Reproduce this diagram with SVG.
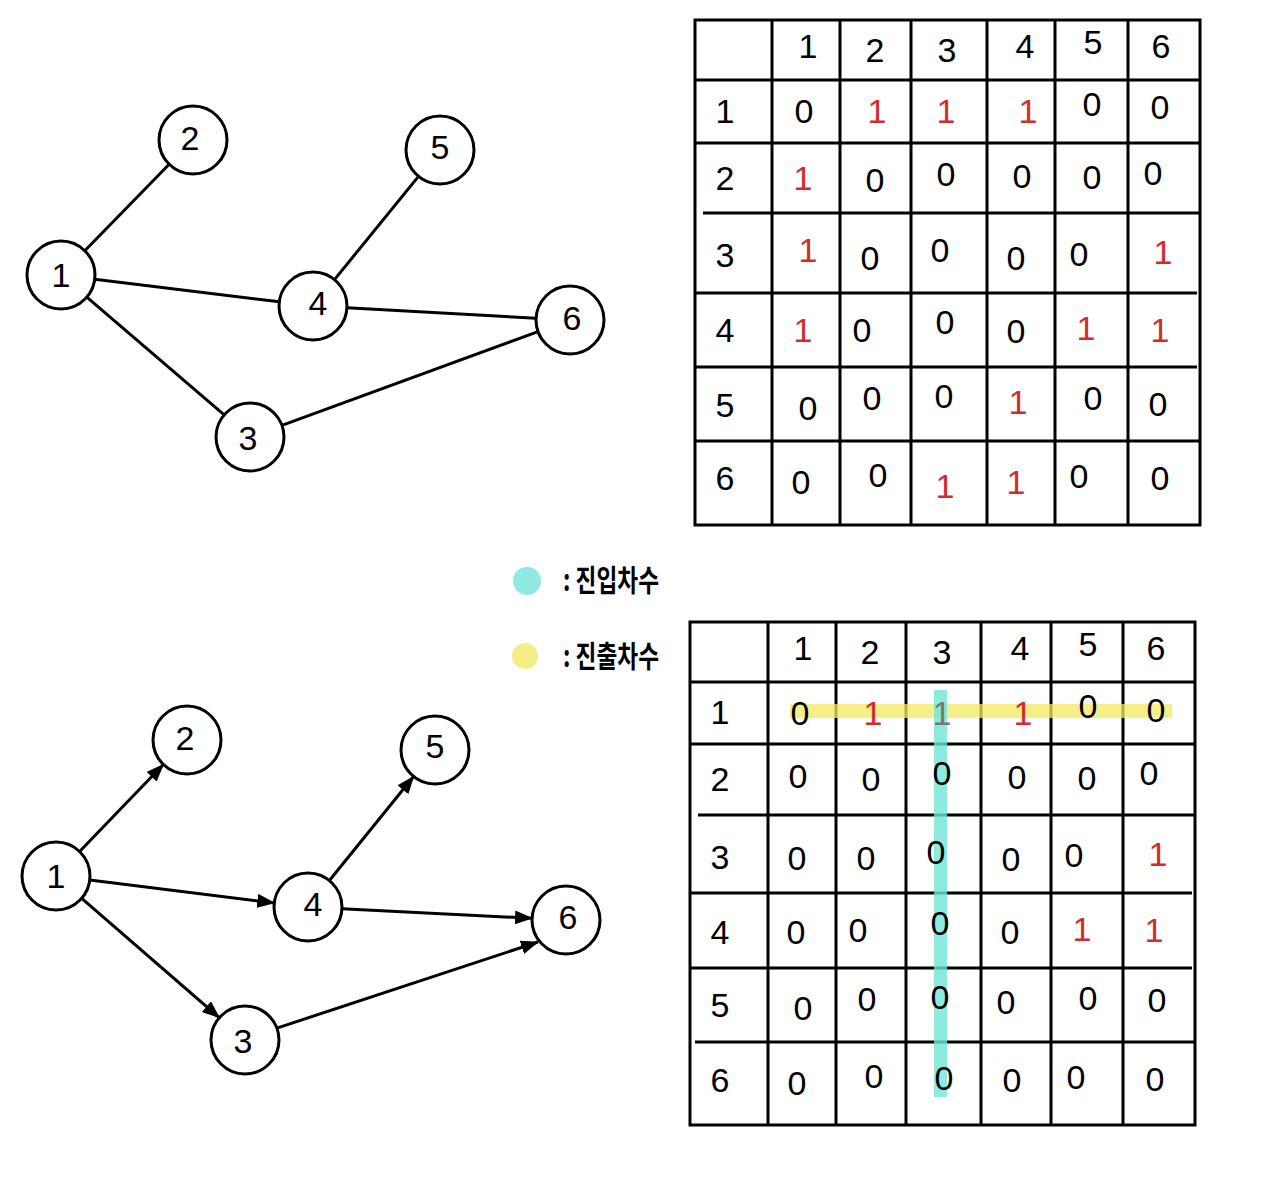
<svg xmlns="http://www.w3.org/2000/svg" width="1263" height="1194" viewBox="0 0 1263 1194">
<defs>
<style>
.node{fill:#fff;stroke:#000;stroke-width:3}
.lbl{font-family:"Liberation Sans","Noto Sans",sans-serif;font-size:34px;fill:#000;text-anchor:middle;dominant-baseline:central}
.edge{stroke:#000;stroke-width:3;fill:none}
.grid{stroke:#000;stroke-width:3;fill:none}
.c{font-family:"Liberation Sans","Noto Sans",sans-serif;font-size:34px;text-anchor:middle;dominant-baseline:central;fill:#000}
.one{fill:#d42a2a}
.leg{font-family:"Noto Sans CJK KR","Noto Sans",sans-serif;font-size:30px;font-weight:bold;fill:#000}
</style>
<marker id="arr" markerUnits="userSpaceOnUse" markerWidth="18" markerHeight="14" viewBox="0 0 18 14" refX="17" refY="7" orient="auto">
<path d="M0,0 L18,7 L0,14 z" fill="#000"/>
</marker>
</defs>
<rect width="1263" height="1194" fill="#fff"/>

<!-- top undirected graph edges -->
<g id="edges-top">
<line class="edge" x1="84.8" y1="250.7" x2="169.2" y2="164.3"/>
<line class="edge" x1="94.7" y1="279.2" x2="279.3" y2="301.8"/>
<line class="edge" x1="86.8" y1="297.1" x2="224.2" y2="414.9"/>
<line class="edge" x1="334.5" y1="279.6" x2="418.5" y2="176.4"/>
<line class="edge" x1="347" y1="307.8" x2="536" y2="318.2"/>
<line class="edge" x1="281.9" y1="425.3" x2="538.1" y2="331.7"/>
</g>
<g id="t-n1"><circle class="node" cx="61" cy="275" r="34"/><text class="lbl" x="61" y="275">1</text></g>
<g id="t-n2"><circle class="node" cx="193" cy="140" r="34"/><text class="lbl" x="190" y="138">2</text></g>
<g id="t-n5"><circle class="node" cx="440" cy="150" r="34"/><text class="lbl" x="440" y="147">5</text></g>
<g id="t-n4"><circle class="node" cx="313" cy="306" r="34"/><text class="lbl" x="318" y="303">4</text></g>
<g id="t-n6"><circle class="node" cx="570" cy="320" r="34"/><text class="lbl" x="572" y="318">6</text></g>
<g id="t-n3"><circle class="node" cx="250" cy="437" r="34"/><text class="lbl" x="248" y="438">3</text></g>

<!-- bottom directed graph edges -->
<g id="edges-bottom">
<line class="edge" x1="79.6" y1="851.5" x2="163.4" y2="764.5" marker-end="url(#arr)"/>
<line class="edge" x1="89.7" y1="880.1" x2="274.3" y2="902.9" marker-end="url(#arr)"/>
<line class="edge" x1="81.7" y1="898.3" x2="219.3" y2="1017.7" marker-end="url(#arr)"/>
<line class="edge" x1="329.4" y1="880.5" x2="413.6" y2="776.5" marker-end="url(#arr)"/>
<line class="edge" x1="342" y1="908.7" x2="532" y2="918.3" marker-end="url(#arr)"/>
<line class="edge" x1="276.9" y1="1028.1" x2="538" y2="942" marker-end="url(#arr)"/>
</g>
<g id="b-n1"><circle class="node" cx="56" cy="876" r="34"/><text class="lbl" x="56" y="876">1</text></g>
<g id="b-n2"><circle class="node" cx="187" cy="740" r="34"/><text class="lbl" x="185" y="738">2</text></g>
<g id="b-n5"><circle class="node" cx="435" cy="750" r="34"/><text class="lbl" x="435" y="746">5</text></g>
<g id="b-n4"><circle class="node" cx="308" cy="907" r="34"/><text class="lbl" x="313" y="904">4</text></g>
<g id="b-n6"><circle class="node" cx="566" cy="920" r="34"/><text class="lbl" x="568" y="917">6</text></g>
<g id="b-n3"><circle class="node" cx="245" cy="1040" r="34"/><text class="lbl" x="243" y="1041">3</text></g>

<!-- top matrix -->
<g id="matrix-top">
<rect class="grid" x="695" y="20" width="505" height="505"/>
<path class="grid" d="M772,20V525 M840,20V525 M911,20V525 M987,20V525 M1055,20V525 M1128,20V525 M695,80H1200 M695,143H1200 M703,213H1200 M695,293H1197 M695,367H1197 M695,441H1200"/>
<g class="c">
<text x="808" y="46">1</text><text x="875" y="50">2</text><text x="947" y="50">3</text><text x="1025" y="46">4</text><text x="1093" y="42">5</text><text x="1161" y="46">6</text>
<text x="725" y="111">1</text><text x="725" y="178">2</text><text x="725" y="255">3</text><text x="725" y="330">4</text><text x="725" y="405">5</text><text x="725" y="478">6</text>
<text x="804" y="111">0</text><text class="one" x="877" y="111">1</text><text class="one" x="946" y="111">1</text><text class="one" x="1028" y="111">1</text><text x="1092" y="104">0</text><text x="1160" y="107">0</text>
<text class="one" x="803" y="178">1</text><text x="875" y="180">0</text><text x="946" y="174">0</text><text x="1022" y="176">0</text><text x="1092" y="177">0</text><text x="1153" y="173">0</text>
<text class="one" x="808" y="250">1</text><text x="870" y="258">0</text><text x="940" y="250">0</text><text x="1016" y="258">0</text><text x="1079" y="254">0</text><text class="one" x="1163" y="252">1</text>
<text class="one" x="803" y="330">1</text><text x="862" y="330">0</text><text x="945" y="322">0</text><text x="1016" y="331">0</text><text class="one" x="1086" y="328">1</text><text class="one" x="1160" y="330">1</text>
<text x="808" y="408">0</text><text x="872" y="398">0</text><text x="944" y="396">0</text><text class="one" x="1018" y="402">1</text><text x="1093" y="398">0</text><text x="1158" y="404">0</text>
<text x="801" y="482">0</text><text x="878" y="475">0</text><text class="one" x="945" y="486">1</text><text class="one" x="1016" y="482">1</text><text x="1079" y="476">0</text><text x="1160" y="478">0</text>
</g>
</g>

<!-- legend -->
<g id="legend-in">
<circle cx="527" cy="581" r="14" fill="#8ee9e0"/>
<text class="leg" x="563" y="591" textLength="96" lengthAdjust="spacingAndGlyphs">: 진입차수</text>
</g>
<g id="legend-out">
<circle cx="525" cy="656" r="13" fill="#f5ee86"/>
<text class="leg" x="563" y="667" textLength="96" lengthAdjust="spacingAndGlyphs">: 진출차수</text>
</g>

<!-- bottom matrix -->
<g id="matrix-bottom">
<rect class="grid" x="690" y="622" width="505" height="503"/>
<path class="grid" d="M768,622V1125 M836,622V1125 M906,622V1125 M981,622V1125 M1051,622V1125 M1123,622V1125 M690,682H1195 M690,744H1195 M698,815H1195 M690,893H1192 M690,968H1192 M695,1042H1195"/>
<rect x="790" y="704" width="382" height="14" fill="#f3ea62" opacity="0.75"/>
<rect x="934" y="690" width="13" height="407" fill="#6fe5d6" opacity="0.8"/>
<g class="c">
<text x="803" y="648">1</text><text x="870" y="652">2</text><text x="942" y="652">3</text><text x="1020" y="648">4</text><text x="1088" y="644">5</text><text x="1156" y="648">6</text>
<text x="720" y="712">1</text><text x="720" y="779">2</text><text x="720" y="857">3</text><text x="720" y="932">4</text><text x="720" y="1005">5</text><text x="720" y="1080">6</text>
<text x="800" y="713">0</text><text class="one" x="873" y="713">1</text><text x="942" y="713" fill="#777">1</text><text class="one" x="1023" y="713">1</text><text x="1088" y="706">0</text><text x="1156" y="710">0</text>
<text x="798" y="776">0</text><text x="871" y="779">0</text><text x="942" y="773">0</text><text x="1017" y="777">0</text><text x="1087" y="778">0</text><text x="1149" y="773">0</text>
<text x="797" y="858">0</text><text x="866" y="858">0</text><text x="936" y="852">0</text><text x="1011" y="859">0</text><text x="1074" y="855">0</text><text class="one" x="1158" y="854">1</text>
<text x="796" y="932">0</text><text x="858" y="930">0</text><text x="940" y="923">0</text><text x="1010" y="932">0</text><text class="one" x="1082" y="929">1</text><text class="one" x="1154" y="930">1</text>
<text x="803" y="1008">0</text><text x="867" y="999">0</text><text x="940" y="997">0</text><text x="1006" y="1002">0</text><text x="1088" y="998">0</text><text x="1157" y="1000">0</text>
<text x="797" y="1083">0</text><text x="874" y="1076">0</text><text x="944" y="1078">0</text><text x="1012" y="1080">0</text><text x="1076" y="1077">0</text><text x="1155" y="1079">0</text>
</g>
</g>
</svg>
